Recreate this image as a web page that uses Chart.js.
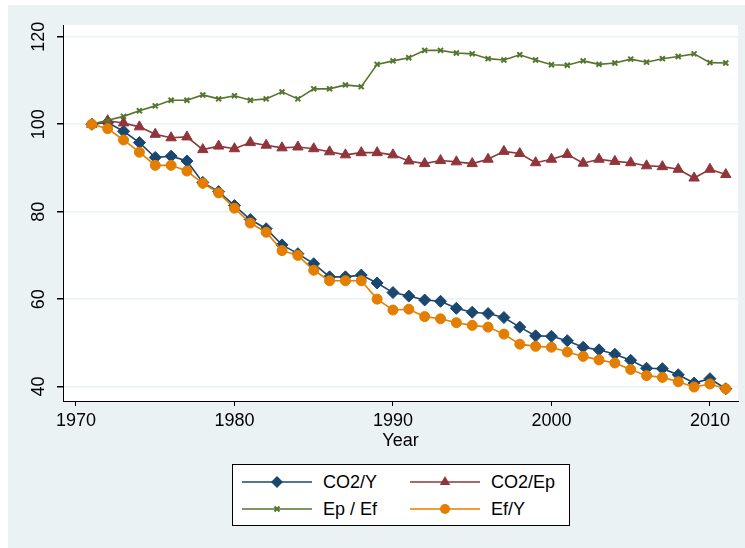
<!DOCTYPE html>
<html><head><meta charset="utf-8">
<script src="https://cdn.jsdelivr.net/npm/chart.js@4"></script>
<style>
html,body{margin:0;padding:0;background:#fff;}
#wrap{position:relative;width:745px;height:548px;overflow:hidden;}
#chart{position:absolute;left:0;top:0;}
#legend{position:absolute;left:232px;top:464px;width:338px;height:62px;box-sizing:border-box;border:1px solid #000;background:#fff;font-family:"Liberation Sans",Arial,sans-serif;font-size:18px;color:#000;}
.item{position:absolute;height:22px;}
.item canvas{position:absolute;left:0;top:0;}
.item span{position:absolute;top:0;line-height:22px;white-space:nowrap;}
</style></head>
<body>
<div id="wrap">
<canvas id="chart" width="745" height="548"></canvas>
<div id="legend"></div>
</div>
<script>
// ---- data ----
const years = [1971,1972,1973,1974,1975,1976,1977,1978,1979,1980,
  1981,1982,1983,1984,1985,1986,1987,1988,1989,1990,
  1991,1992,1993,1994,1995,1996,1997,1998,1999,2000,
  2001,2002,2003,2004,2005,2006,2007,2008,2009,2010,2011];
const co2PerY = [100,100.4,98.4,95.8,92.4,92.7,91.6,86.7,84.6,81.4,
  78.2,76.1,72.4,70.4,68.1,65.1,65.1,65.5,63.7,61.5,
  60.7,59.8,59.5,57.9,57.0,56.7,55.8,53.6,51.6,51.5,
  50.5,49.0,48.4,47.4,46.0,44.2,44.1,42.7,40.8,41.8,39.5];
const co2PerEp = [100,100.8,100.3,99.4,97.7,96.9,97.1,94.2,95.0,94.4,
  95.8,95.2,94.6,94.8,94.4,93.7,93.0,93.5,93.5,93.0,
  91.6,91.0,91.7,91.4,91.0,92.0,93.8,93.3,91.2,92.0,
  93.1,91.1,92.0,91.5,91.2,90.5,90.3,89.7,87.7,89.7,88.5];
const epPerEf = [100,100.9,101.8,103.1,104.2,105.5,105.5,106.7,105.8,106.5,
  105.5,105.8,107.4,105.8,108.1,108.1,109.0,108.6,113.7,114.5,
  115.2,116.9,116.9,116.3,116.1,115.0,114.7,115.9,114.7,113.6,
  113.5,114.5,113.7,114.0,114.9,114.2,115.0,115.5,116.1,114.1,114.0];
const efPerY = [100,99.0,96.4,93.6,90.6,90.6,89.3,86.5,84.3,80.8,
  77.4,75.3,71.1,70.0,66.6,64.2,64.2,64.2,60.0,57.5,
  57.7,56.0,55.5,54.6,54.0,53.6,52.0,49.7,49.2,49.0,
  47.9,46.9,46.1,45.4,43.9,42.5,42.1,41.1,39.9,40.6,39.5];
const seriesNames = ['CO2/Y','CO2/Ep','Ep / Ef','Ef/Y'];
const xTicks = [1970,1980,1990,2000,2010];
const yTicks = [40,60,80,100,120];
const xTitle = 'Year';

// ---- styles ----
const FONT = '"Liberation Sans", Arial, sans-serif';
const styles = [
  {color:'#1A476F', pointStyle:'rectRot', radius:6, bw:1, order:4},
  {color:'#90353B', pointStyle:'triangle', radius:6, bw:1, order:3},
  {color:'#55752F', pointStyle:'crossRot', radius:3.5, bw:2, order:2},
  {color:'#E37E00', pointStyle:'circle', radius:5, bw:1, order:1}
];
const seriesData = [co2PerY, co2PerEp, epPerEf, efPerY];
const pts = arr => years.map((y,i)=>({x:y, y:arr[i]}));

const bgPlugin = {
  id:'bg',
  beforeDraw(chart){
    const {ctx, chartArea:a} = chart;
    ctx.save();
    ctx.fillStyle='#ffffff'; ctx.fillRect(0,0,chart.width,chart.height);
    ctx.fillStyle='#EAF2F3'; ctx.fillRect(8,5,chart.width-8,chart.height-5);
    ctx.fillStyle='#ffffff'; ctx.fillRect(a.left,a.top,a.right-a.left,a.bottom-a.top);
    ctx.restore();
  }
};

new Chart(document.getElementById('chart'), {
  type:'line',
  data:{
    datasets: seriesData.map((d,i)=>({
      label: seriesNames[i],
      data: pts(d),
      borderColor: styles[i].color,
      backgroundColor: styles[i].color,
      pointBackgroundColor: styles[i].color,
      pointBorderColor: styles[i].color,
      borderWidth: 1.6,
      pointStyle: styles[i].pointStyle,
      pointRadius: styles[i].radius,
      pointBorderWidth: styles[i].bw,
      tension: 0,
      order: styles[i].order,
      clip: false
    }))
  },
  options:{
    responsive:false,
    animation:false,
    devicePixelRatio:1,
    layout:{padding:{left:0, top:25, right:6, bottom:96}},
    plugins:{legend:{display:false}, tooltip:{enabled:false}},
    scales:{
      x:{
        type:'linear', min:1969.18, max:2011.77,
        afterBuildTicks: s => { s.ticks = xTicks.map(v=>({value:v})); },
        afterFit: s => { s.height = 51; },
        ticks:{font:{family:FONT, size:18}, color:'#000', padding:4, maxRotation:0, autoSkip:false,
          callback: v => String(v)},
        grid:{drawOnChartArea:false, drawTicks:true, tickLength:5, tickColor:'#000', color:'#000'},
        border:{color:'#000', width:1},
        title:{display:true, text:xTitle, font:{family:FONT, size:18}, color:'#000', padding:{top:0,bottom:0}}
      },
      y:{
        type:'linear', min:36.7, max:122.7,
        afterBuildTicks: s => { s.ticks = yTicks.map(v=>({value:v})); },
        afterFit: s => { s.width = 63; },
        ticks:{font:{family:FONT, size:18}, color:'#000', padding:3, minRotation:90, maxRotation:90,
          crossAlign:'center', autoSkip:false, callback: v => String(v)},
        grid:{color:'#EAF2F3', lineWidth:1.5, tickColor:'#000', tickLength:6, drawTicks:true},
        border:{color:'#000', width:1}
      }
    }
  },
  plugins:[bgPlugin]
});

// ---- legend (HTML) ----
function drawMarker(ctx, st, x, y){
  ctx.fillStyle = st.color; ctx.strokeStyle = st.color;
  const r = st.radius;
  ctx.beginPath();
  if (st.pointStyle==='rectRot'){
    ctx.moveTo(x, y-r); ctx.lineTo(x+r, y); ctx.lineTo(x, y+r); ctx.lineTo(x-r, y); ctx.closePath(); ctx.fill();
  } else if (st.pointStyle==='triangle'){
    ctx.moveTo(x, y-r); ctx.lineTo(x+r*0.866, y+r*0.5); ctx.lineTo(x-r*0.866, y+r*0.5); ctx.closePath(); ctx.fill();
  } else if (st.pointStyle==='circle'){
    ctx.arc(x, y, r, 0, Math.PI*2); ctx.fill();
  } else {
    const d = r*0.707; ctx.lineWidth = 2;
    ctx.moveTo(x-d,y-d); ctx.lineTo(x+d,y+d); ctx.moveTo(x+d,y-d); ctx.lineTo(x-d,y+d); ctx.stroke();
  }
}
const legend = document.getElementById('legend');
const cols = [8, 176], rows = [6, 33];
seriesNames.forEach((name,i)=>{
  const st = styles[i];
  const div = document.createElement('div');
  div.className='item';
  div.style.left = cols[i%2]+'px';
  div.style.top = rows[Math.floor(i/2)]+'px';
  const c = document.createElement('canvas');
  c.width = 72; c.height = 22;
  const ctx = c.getContext('2d');
  ctx.strokeStyle = st.color; ctx.lineWidth = 1.6;
  ctx.beginPath(); ctx.moveTo(1, 11); ctx.lineTo(71, 11); ctx.stroke();
  drawMarker(ctx, st, 36, 11);
  div.appendChild(c);
  const sp = document.createElement('span');
  sp.textContent = name; sp.style.left = '82px';
  div.appendChild(sp);
  legend.appendChild(div);
});
</script>
</body></html>
